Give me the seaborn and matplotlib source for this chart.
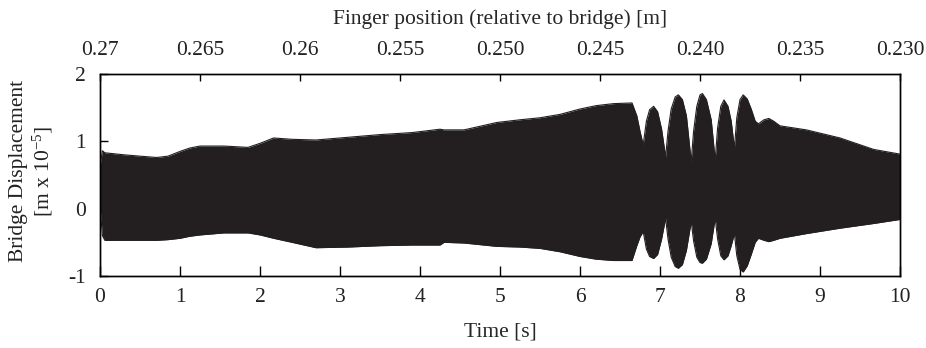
import numpy as np
import pandas as pd
import matplotlib
matplotlib.use("Agg")
import matplotlib.pyplot as plt
import seaborn as sns

# Envelope of the bridge displacement signal
time_s = [0.00, 0.03, 0.06, 0.30, 0.50, 0.71, 0.85, 1.00, 1.12, 1.25, 1.55, 1.85,
          2.00, 2.17, 2.40, 2.70, 3.10, 3.50, 3.90, 4.25, 4.30, 4.55, 4.96, 5.25,
          5.50, 5.75, 6.00, 6.20, 6.42, 6.65, 6.71, 6.75,
          6.79, 6.83, 6.87, 6.92, 6.97, 7.02, 7.07,
          7.10, 7.14, 7.19, 7.23, 7.28, 7.33, 7.39,
          7.42, 7.46, 7.50, 7.53, 7.58, 7.64, 7.69,
          7.72, 7.76, 7.80, 7.85, 7.89, 7.93,
          7.96, 8.00, 8.04, 8.09, 8.14, 8.19, 8.23, 8.30, 8.36, 8.42, 8.50,
          8.83, 9.25, 9.67, 10.00]
upper = [0.62, 0.86, 0.83, 0.80, 0.78, 0.76, 0.78, 0.85, 0.90, 0.93, 0.93, 0.91,
         0.97, 1.05, 1.03, 1.02, 1.06, 1.10, 1.13, 1.18, 1.17, 1.17, 1.28, 1.32,
         1.35, 1.40, 1.48, 1.53, 1.56, 1.57, 1.38, 1.15,
         0.95, 1.30, 1.47, 1.52, 1.44, 1.18, 0.77,
         1.15, 1.48, 1.66, 1.69, 1.62, 1.38, 0.70,
         1.15, 1.52, 1.69, 1.71, 1.62, 1.32, 0.72,
         1.20, 1.52, 1.615, 1.52, 1.30, 0.90,
         1.35, 1.62, 1.69, 1.63, 1.48, 1.30, 1.26, 1.32, 1.34, 1.30, 1.23,
         1.17, 1.05, 0.88, 0.81]
lower = [0.05, -0.40, -0.47, -0.47, -0.47, -0.47, -0.46, -0.44, -0.41, -0.39, -0.36, -0.36,
         -0.39, -0.44, -0.50, -0.58, -0.57, -0.55, -0.54, -0.54, -0.50, -0.51, -0.56, -0.57,
         -0.59, -0.64, -0.71, -0.75, -0.77, -0.77, -0.55, -0.42,
         -0.34, -0.60, -0.71, -0.74, -0.68, -0.45, -0.14,
         -0.45, -0.72, -0.86, -0.885, -0.83, -0.62, -0.19,
         -0.48, -0.72, -0.80, -0.81, -0.75, -0.52, -0.14,
         -0.45, -0.70, -0.76, -0.70, -0.55, -0.37,
         -0.70, -0.90, -0.94, -0.85, -0.68, -0.50, -0.44, -0.47, -0.49, -0.47, -0.44,
         -0.37, -0.29, -0.22, -0.16]

time_ticks = [0, 1, 2, 3, 4, 5, 6, 7, 8, 9, 10]
disp_ticks = [-1, 0, 1, 2]
finger_values = [0.27, 0.265, 0.26, 0.255, 0.250, 0.245, 0.240, 0.235, 0.230]
finger_labels = ["0.27", "0.265", "0.26", "0.255", "0.250", "0.245", "0.240", "0.235", "0.230"]

sns.set_theme(style="ticks")
plt.rcParams.update({
    "font.family": ["Liberation Serif", "DejaVu Serif"],
    "mathtext.fontset": "custom",
    "mathtext.rm": "Liberation Serif",
    "mathtext.it": "Liberation Serif:italic",
    "axes.unicode_minus": False,
    "font.size": 15.5,
    "axes.edgecolor": "black",
    "axes.linewidth": 1.0,
    "xtick.color": "black",
    "ytick.color": "black",
    "text.color": "#222222",
})

ink = "#231f20"
fig = plt.figure(figsize=(9.26, 3.48), dpi=100)
ax = fig.add_axes([100 / 926, 1 - 276 / 348, 800 / 926, 202 / 348])

df = pd.DataFrame({"t": time_s, "upper": upper, "lower": lower})
ax.fill_between(df["t"], df["lower"], df["upper"], color=ink, lw=0)
sns.lineplot(data=df, x="t", y="upper", ax=ax, color=ink, lw=0.8)
sns.lineplot(data=df, x="t", y="lower", ax=ax, color=ink, lw=0.8)

ax.set_xlim(0, 10)
ax.set_ylim(-1, 2)
ax.set_xticks(time_ticks)
ax.set_yticks(disp_ticks)
ax.set_xticklabels([str(v) for v in time_ticks])
ax.set_yticklabels([str(v) for v in disp_ticks])
ax.tick_params(axis="x", direction="in", length=7, width=1, labelsize=15.5, pad=9,
               labelcolor="#222222")
ax.tick_params(axis="y", direction="in", length=6, width=1, labelsize=15.5, pad=10,
               labelcolor="#222222")
ax.set_xlabel("Time [s]", fontsize=15.5, labelpad=11)
ax.set_ylabel("")

top = ax.twiny()
top.set_xlim(0, 10)
positions = [(finger_values[0] - v) / (finger_values[0] - finger_values[-1]) * 10
             for v in finger_values]
top.set_xticks(positions)
top.set_xticklabels(finger_labels)
top.tick_params(axis="x", direction="in", length=5, width=1, labelsize=15.5, pad=10,
                labelcolor="#222222")
top.set_xlabel("Finger position (relative to bridge) [m]", fontsize=15.5, labelpad=12)

fig.text(32 / 926, 1 - 171 / 348, "Bridge Displacement\n[m x 10$^{-5}$]",
         rotation=90, ha="center", va="center", multialignment="center",
         fontsize=15.5, linespacing=1.15)

fig.savefig("out.png", dpi=100)
